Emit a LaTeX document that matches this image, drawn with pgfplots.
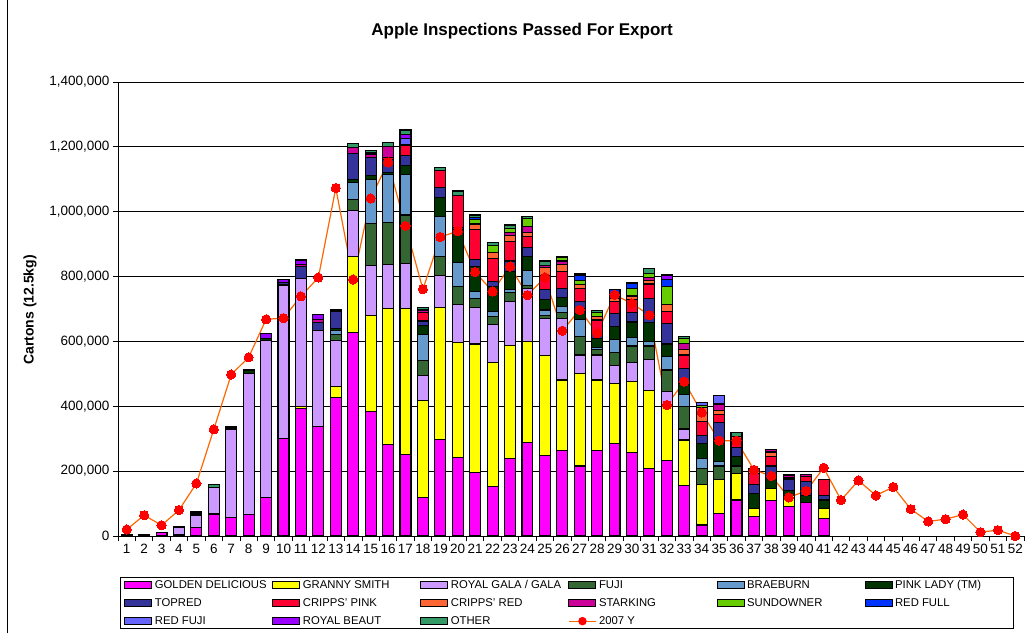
\documentclass[border=0pt]{standalone}
\usepackage{fontspec}
\setmainfont{Liberation Sans}
\usepackage{pgfplots}
\usepackage{pgfplotstable}
\pgfplotsset{compat=1.18}

\definecolor{cGD}{HTML}{FF00FF}
\definecolor{cGS}{HTML}{FFFF00}
\definecolor{cRG}{HTML}{CC99FF}
\definecolor{cFU}{HTML}{336633}
\definecolor{cBR}{HTML}{6699CC}
\definecolor{cPL}{HTML}{003300}
\definecolor{cTR}{HTML}{333399}
\definecolor{cCP}{HTML}{FF0033}
\definecolor{cCR}{HTML}{FF6633}
\definecolor{cST}{HTML}{CC0099}
\definecolor{cSD}{HTML}{66CC00}
\definecolor{cRF}{HTML}{0033FF}
\definecolor{cRFJ}{HTML}{6666FF}
\definecolor{cRB}{HTML}{9900FF}
\definecolor{cOT}{HTML}{339966}
\definecolor{cLine}{HTML}{FF6600}

% cartons, thousands
\pgfplotstableread{
wk GD GS RG FU BR PL TR CP CR ST SD RF RFJ RB OT
1 2 0 0 0 0 3 0 0 0 0 0 0 0 0 0
2 2 0 0 2 0 0 0 0 0 0 0 0 0 0 0
3 10 0 0 0 0 0 0 0 0 0 0 0 0 0 2
4 3 3 21 3 0 0 0 0 0 0 0 0 0 0 0
5 25 0 37 6 0 0 0 0 0 0 0 0 0 0 6
6 68 0 82 0 0 0 0 0 0 0 0 0 0 0 10
7 58 0 271 4 0 0 0 0 0 0 0 0 0 0 6
8 66 0 434 0 0 10 0 0 0 0 0 0 0 0 3
9 119 0 485 0 0 4 0 0 0 0 0 0 0 16 0
10 300 0 474 0 0 0 9 0 0 0 0 0 0 8 0
11 393 7 395 0 0 0 36 0 0 7 0 0 0 13 0
12 339 0 296 0 0 0 23 0 0 10 0 0 0 14 0
13 428 32 144 16 15 4 52 0 0 0 0 0 0 3 3
14 628 233 142 35 52 10 79 0 0 19 0 0 0 0 13
15 384 295 154 131 134 15 55 0 0 10 0 0 0 4 8
16 281 421 134 131 147 6 42 6 0 32 0 0 0 0 13
17 250 452 139 149 125 27 31 30 0 0 0 5 17 12 15
18 119 300 77 44 80 28 15 26 0 8 0 0 0 0 8
19 298 407 99 57 124 59 31 51 0 0 0 0 0 0 10
20 243 355 116 55 74 101 8 99 0 0 0 0 0 0 13
21 195 397 112 27 23 77 22 93 16 0 14 7 0 0 7
22 152 382 118 26 14 77 15 72 18 0 23 0 0 0 9
23 239 349 135 28 8 56 33 59 19 10 13 0 0 0 10
24 289 310 163 10 48 41 28 34 13 18 24 0 0 0 7
25 247 310 114 10 16 31 31 44 24 8 0 0 0 0 13
26 263 218 190 19 17 28 27 55 21 10 11 0 0 0 2
27 216 284 58 57 53 32 22 42 12 0 13 16 0 0 5
28 265 216 77 16 7 29 15 41 10 0 13 0 0 0 6
29 286 183 56 40 42 38 40 39 8 0 0 27 0 0 0
30 257 219 60 50 27 47 30 40 10 0 22 16 0 0 4
31 208 242 93 43 13 59 75 44 12 9 12 0 0 0 15
32 234 165 46 67 41 39 62 38 23 0 54 22 0 14 0
33 155 141 34 69 36 36 46 41 16 20 16 0 0 0 5
34 34 125 0 50 31 46 25 41 43 0 8 0 10 0 0
35 70 103 0 43 13 67 53 27 12 19 0 0 25 0 0
36 111 82 0 23 0 29 28 13 22 0 0 0 0 0 11
37 60 25 0 0 0 47 28 33 11 5 0 0 0 0 0
38 109 38 0 0 0 31 38 29 14 8 0 0 0 0 0
39 92 34 0 0 0 14 33 6 0 9 0 0 0 0 0
40 103 0 0 0 0 23 41 16 0 8 0 0 0 0 0
41 55 30 0 0 0 26 15 47 0 0 0 0 0 0 0
}\apples

\pgfplotstableread{
wk y
1 20
2 64
3 33
4 80
5 162
6 329
7 498
8 551
9 668
10 672
11 739
12 797
13 1073
14 791
15 1041
16 1152
17 956
18 761
19 922
20 940
21 814
22 754
23 831
24 743
25 797
26 633
27 697
28 625
29 744
30 717
31 681
32 404
33 476
34 381
35 294
36 294
37 204
38 185
39 119
40 139
41 210
42 111
43 171
44 125
45 151
46 83
47 45
48 52
49 66
50 12
51 18
52 0
}\yearline

\pgfplotsset{
  bs/.style={fill=#1, draw=black, line width=1.1pt,
    legend image code/.code={\draw[fill=#1, draw=black, line width=1pt] (0pt,-3.5pt) rectangle (27pt,3.5pt);}},
}
\newcommand{\LE}[1]{\makebox[112pt][l]{#1}}

\begin{document}
\begin{tikzpicture}
\useasboundingbox (0,0) rectangle (1029pt,633pt);
\draw[black, line width=1pt] (7pt,0pt) -- (7pt,633pt);
\begin{axis}[
  at={(118pt,97pt)}, anchor=south west,
  scale only axis, width=906pt, height=454pt,
  ybar stacked, bar width=0.63,
  xmin=0.5, xmax=52.5, ymin=0, ymax=1400,
  enlargelimits=false,
  axis x line*=bottom, axis y line*=left,
  axis line style={black, line width=0.8pt},
  xtick={1,...,52},
  minor xtick={0.5,1.5,...,52.5},
  major x tick style={draw=none},
  minor x tick style={black, line width=0.8pt},
  minor tick length=5pt, major tick length=5pt, tick align=outside,
  ytick={0,200,...,1400},
  yticklabels={0,{200,000},{400,000},{600,000},{800,000},{1,000,000},{1,200,000},{1,400,000}},
  y tick style={black, line width=0.8pt},
  ymajorgrids, grid style={black, line width=0.8pt},
  tick label style={font=\fontsize{13.5}{15}\selectfont},
  xticklabel style={inner xsep=0pt},
  /pgf/number format/assume math mode=true,
  ylabel={Cartons (12.5kg)},
  every axis y label/.style={at={(axis description cs:-0.097,0.498)}, rotate=90, anchor=center,
    font=\bfseries\fontsize{14}{16}\selectfont},
  title={Apple Inspections Passed For Export},
  every axis title/.style={at={(axis description cs:0.446,1.112)}, anchor=center,
    font=\bfseries\fontsize{17}{19}\selectfont},
  legend columns=6,
  legend cell align=left,
  legend style={at={(0.0022,-0.0903)}, anchor=north west, draw=black, line width=0.8pt,
    font=\fontsize{11.3}{13}\selectfont, inner xsep=4pt, inner ysep=0pt, row sep=2.5pt,
    /tikz/every odd column/.append style={column sep=0pt},
    /tikz/every even column/.append style={column sep=3pt},
    nodes={text height=8.5pt, text depth=2pt, inner xsep=2.5pt, inner ysep=2.5pt}},
]
\addplot[bs=cGD] table[x=wk, y=GD] {\apples}; \addlegendentry{\LE{GOLDEN DELICIOUS}}
\addplot[bs=cGS] table[x=wk, y=GS] {\apples}; \addlegendentry{\LE{GRANNY SMITH}}
\addplot[bs=cRG] table[x=wk, y=RG] {\apples}; \addlegendentry{\LE{ROYAL GALA / GALA}}
\addplot[bs=cFU] table[x=wk, y=FU] {\apples}; \addlegendentry{\LE{FUJI}}
\addplot[bs=cBR] table[x=wk, y=BR] {\apples}; \addlegendentry{\LE{BRAEBURN}}
\addplot[bs=cPL] table[x=wk, y=PL] {\apples}; \addlegendentry{\LE{PINK LADY (TM)}}
\addplot[bs=cTR] table[x=wk, y=TR] {\apples}; \addlegendentry{\LE{TOPRED}}
\addplot[bs=cCP] table[x=wk, y=CP] {\apples}; \addlegendentry{\LE{CRIPPS' PINK}}
\addplot[bs=cCR] table[x=wk, y=CR] {\apples}; \addlegendentry{\LE{CRIPPS' RED}}
\addplot[bs=cST] table[x=wk, y=ST] {\apples}; \addlegendentry{\LE{STARKING}}
\addplot[bs=cSD] table[x=wk, y=SD] {\apples}; \addlegendentry{\LE{SUNDOWNER}}
\addplot[bs=cRF] table[x=wk, y=RF] {\apples}; \addlegendentry{\LE{RED FULL}}
\addplot[bs=cRFJ] table[x=wk, y=RFJ] {\apples}; \addlegendentry{\LE{RED FUJI}}
\addplot[bs=cRB] table[x=wk, y=RB] {\apples}; \addlegendentry{\LE{ROYAL BEAUT}}
\addplot[bs=cOT] table[x=wk, y=OT] {\apples}; \addlegendentry{\LE{OTHER}}
\addplot[sharp plot, stack plots=false, draw=cLine, line width=1.2pt,
  mark=*, mark size=4.6pt, mark options={fill=red, draw=red, line width=0pt},
  legend image code/.code={\draw[cLine, line width=1.2pt] (0pt,0pt) -- (27pt,0pt);
    \fill[red] (13.5pt,0pt) circle (3.6pt);}]
  table[x=wk, y=y] {\yearline};
\addlegendentry{\LE{2007 Y}}
\end{axis}
\end{tikzpicture}
\end{document}
